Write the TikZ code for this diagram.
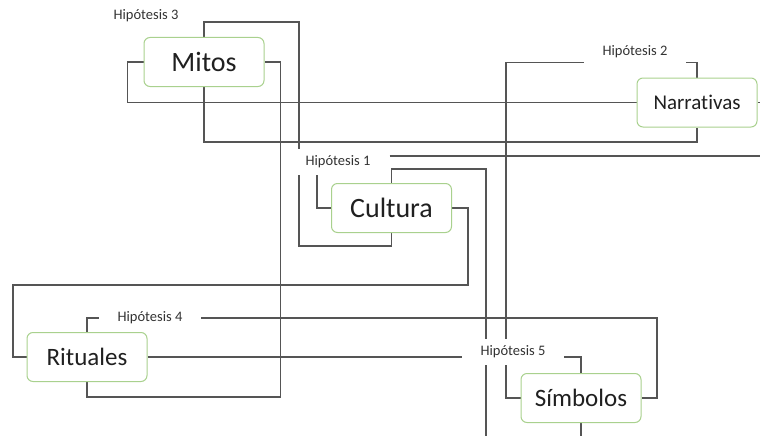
\documentclass[tikz,border=0pt]{standalone}
\usepackage{fontspec}
\setmainfont{Carlito}[Ligatures=NoCommon]
\usepackage{xcolor}
\usepackage{tikz}
\usetikzlibrary{positioning,calc,backgrounds}
\definecolor{boxgreen}{HTML}{A9D18E}
\definecolor{linegray}{HTML}{555555}
\definecolor{textgray}{HTML}{202020}

\begin{document}
\begin{tikzpicture}[
  x=1pt, y=-1pt,
  every node/.style={text=textgray},
  concept/.style={rectangle, rounded corners=6pt, draw=boxgreen, line width=1pt,
                  fill=white, minimum width=120pt, minimum height=49pt, inner sep=0pt},
  big/.style={concept, font=\fontsize{28}{30}\selectfont},
  mid/.style={concept, font=\fontsize{25}{27}\selectfont},
  small/.style={concept, font=\fontsize{21}{23}\selectfont},
  hip/.style={rectangle, fill=white, inner xsep=19pt, inner ysep=0pt,
              minimum height=26pt, font=\fontsize{14.5}{16}\selectfont, text=black!80},
  link/.style={draw=linegray, line width=1.1pt}
]
\useasboundingbox (0,0) rectangle (760,436);

\node[big]   (mitos)      at (204,62)    {Mitos};
\node[small] (narrativas) at (697,102.5) {Narrativas};
\node[big]   (cultura)    at (391.5,208) {Cultura};
\node[mid]   (rituales)   at (87,357)    {Rituales};
\node[mid]   (simbolos)   at (581,398)   {Símbolos};

\node[hip] (h3) at (146,16)  {Hipótesis 3};
\node[hip] (h2) at (635,52)  {Hipótesis 2};
\node[hip] (h1) at (338,162) {Hipótesis 1};
\node[hip] (h4) at (150,318) {Hipótesis 4};
\node[hip] (h5) at (513,352) {Hipótesis 5};

\coordinate (offright) at (762,156);
\coordinate (offdown)  at (486,440);

\begin{scope}[on background layer]
\draw[link] (mitos.north) -- ++(0,-15) -- ++(95,0) -- ++(0,224) -| (cultura.south);
\draw[link] (mitos.west) -- ++(-16,0) |- (narrativas.west);
\draw[link] (mitos.east) -- ++(16,0) -- ++(0,335) -| (rituales.south);
\draw[link] (mitos.south) -- ++(0,55) -| (narrativas.south);
\draw[link] (narrativas.north) -- ++(0,-15) -- ++(-191,0) |- (simbolos.west);
\draw[link] (narrativas.east) -- ++(8,0);
\draw[link] (cultura.north) -- ++(0,-14) -| (offdown);
\draw[link] (cultura.west) -| ([xshift=-21pt]h1.south);
\draw[link] (h1.east |- offright) -- (offright);
\draw[link] (cultura.east) -- ++(16,0) -- ++(0,77) -- ++(-455,0) |- (rituales.west);
\draw[link] (rituales.north) |- ++(570,-14) |- (simbolos.east);
\draw[link] (rituales.east) -| (simbolos.north);
\draw[link] (simbolos.south) -- ++(0,16);
\end{scope}
\end{tikzpicture}
\end{document}
